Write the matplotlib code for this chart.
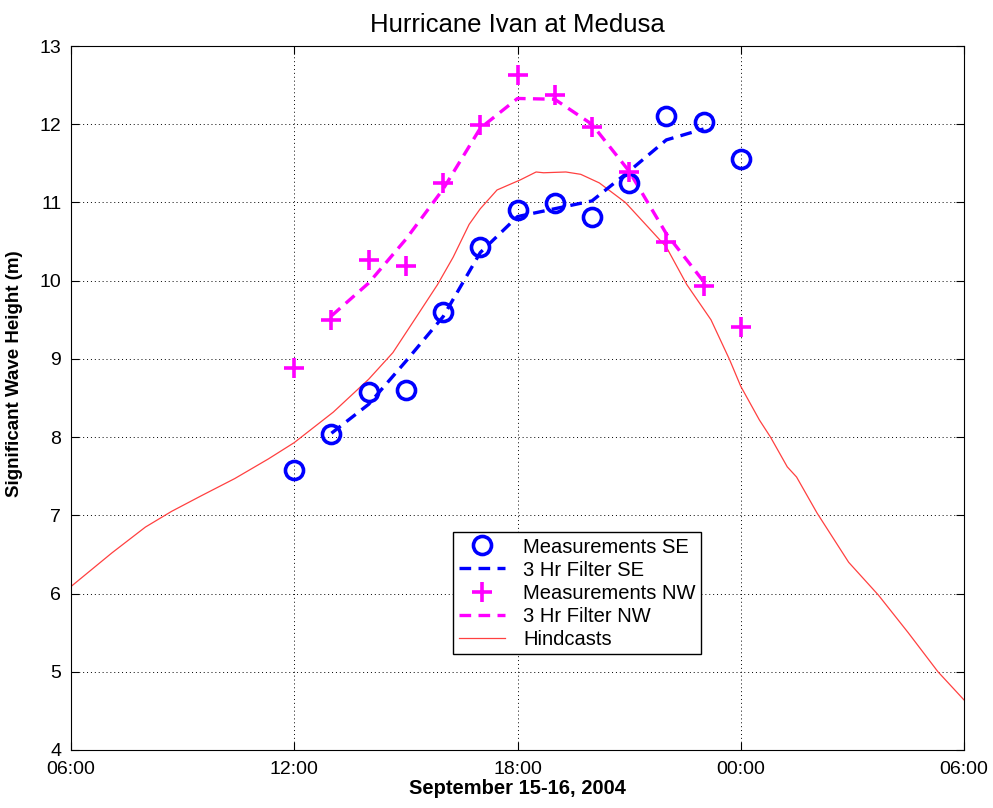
import matplotlib
matplotlib.use("Agg")
import matplotlib.pyplot as plt
import numpy as np

plt.rcParams['font.family'] = ['Liberation Sans', 'DejaVu Sans']

# hours since 06:00 Sept 15
meas_hours = [6, 7, 8, 9, 10, 11, 12, 13, 14, 15, 16, 17, 18]
se_meas = [7.58, 8.04, 8.58, 8.60, 9.60, 10.43, 10.90, 10.99, 10.82, 11.25, 12.10, 12.03, 11.56]
nw_meas = [8.89, 9.50, 10.26, 10.19, 11.25, 11.99, 12.63, 12.37, 11.97, 11.39, 10.50, 9.93, 9.41]

filt_hours = [7, 8, 9, 10, 11, 12, 13, 14, 15, 16, 17]
se_filt = [8.05, 8.42, 8.97, 9.54, 10.36, 10.82, 10.92, 11.02, 11.40, 11.80, 11.94]
nw_filt = [9.55, 9.97, 10.53, 11.17, 11.95, 12.33, 12.32, 12.00, 11.40, 10.60, 9.99]

hind_hours = [0.0, 1.1, 2.0, 2.7, 3.5, 4.4, 5.3, 6.0, 7.05, 8.0, 8.65, 9.3, 9.85, 10.27,
              10.7, 11.0, 11.45, 12.08, 12.5, 12.7, 13.3, 13.7, 14.2, 14.9, 15.5, 16.0,
              16.55, 17.2, 17.7, 18.0, 18.5, 18.8, 19.25, 19.5, 20.05, 20.9, 21.7, 22.5, 23.3, 24.0]
hindcast = [6.09, 6.52, 6.85, 7.05, 7.25, 7.47, 7.72, 7.93, 8.32, 8.74, 9.08, 9.55, 9.95, 10.3,
            10.72, 10.92, 11.16, 11.29, 11.39, 11.38, 11.39, 11.36, 11.25, 11.0, 10.69, 10.43,
            9.95, 9.5, 8.99, 8.65, 8.22, 8.0, 7.62, 7.49, 7.03, 6.4, 5.98, 5.5, 5.0, 4.64]

xtick_labels = ["06:00", "12:00", "18:00", "00:00", "06:00"]
xtick_pos = [0, 6, 12, 18, 24]

fig = plt.figure(figsize=(9.93, 8.08), dpi=100)
ax = fig.add_axes([0.0715, 0.0718, 0.8993, 0.8712])

ax.plot(meas_hours, se_meas, linestyle='none', marker='o', markersize=13,
        markerfacecolor='none', markeredgecolor='#0000ff', markeredgewidth=2.6,
        label='Measurements SE', zorder=4)
ax.plot(filt_hours, se_filt, color='#0000ff', linestyle=(0, (3.5, 2.2)), linewidth=2.4,
        label='3 Hr Filter SE', zorder=3)
ax.plot(meas_hours, nw_meas, linestyle='none', marker='+', markersize=15,
        markeredgecolor='#ff00ff', markeredgewidth=2.6, label='Measurements NW', zorder=4)
ax.plot(filt_hours, nw_filt, color='#ff00ff', linestyle=(0, (3.5, 2.2)), linewidth=2.4,
        label='3 Hr Filter NW', zorder=3)
ax.plot(hind_hours, hindcast, color='#ff4040', linewidth=0.9, label='Hindcasts', zorder=2)

ax.set_xlim(0, 24)
ax.set_ylim(4, 13)
ax.set_xticks(xtick_pos)
ax.set_xticklabels(xtick_labels)
ax.set_yticks(range(4, 14))
ax.tick_params(direction='in', top=True, right=True, labelsize=14, length=6)
ax.tick_params(axis='x', pad=8)
ax.tick_params(axis='y', pad=7)
ax.grid(True, linestyle=(0, (1, 3)), color='black', linewidth=0.7)

ax.set_title('Hurricane Ivan at Medusa', fontsize=18.5, pad=10)
ax.set_xlabel('September 15-16, 2004', fontsize=14.5, fontweight='bold', labelpad=1)
ax.set_ylabel('Significant Wave Height (m)', fontsize=13.5, fontweight='bold')
ax.yaxis.set_label_coords(-0.054, 0.535)

leg = ax.legend(loc='lower left', bbox_to_anchor=(0.428, 0.136), borderaxespad=0,
                fontsize=14.5, frameon=True, fancybox=False, edgecolor='black',
                framealpha=1, borderpad=0.28, labelspacing=0.2, handlelength=2.3,
                handletextpad=0.9)
leg.get_frame().set_linewidth(1.0)

fig.savefig('out.png', dpi=100)
